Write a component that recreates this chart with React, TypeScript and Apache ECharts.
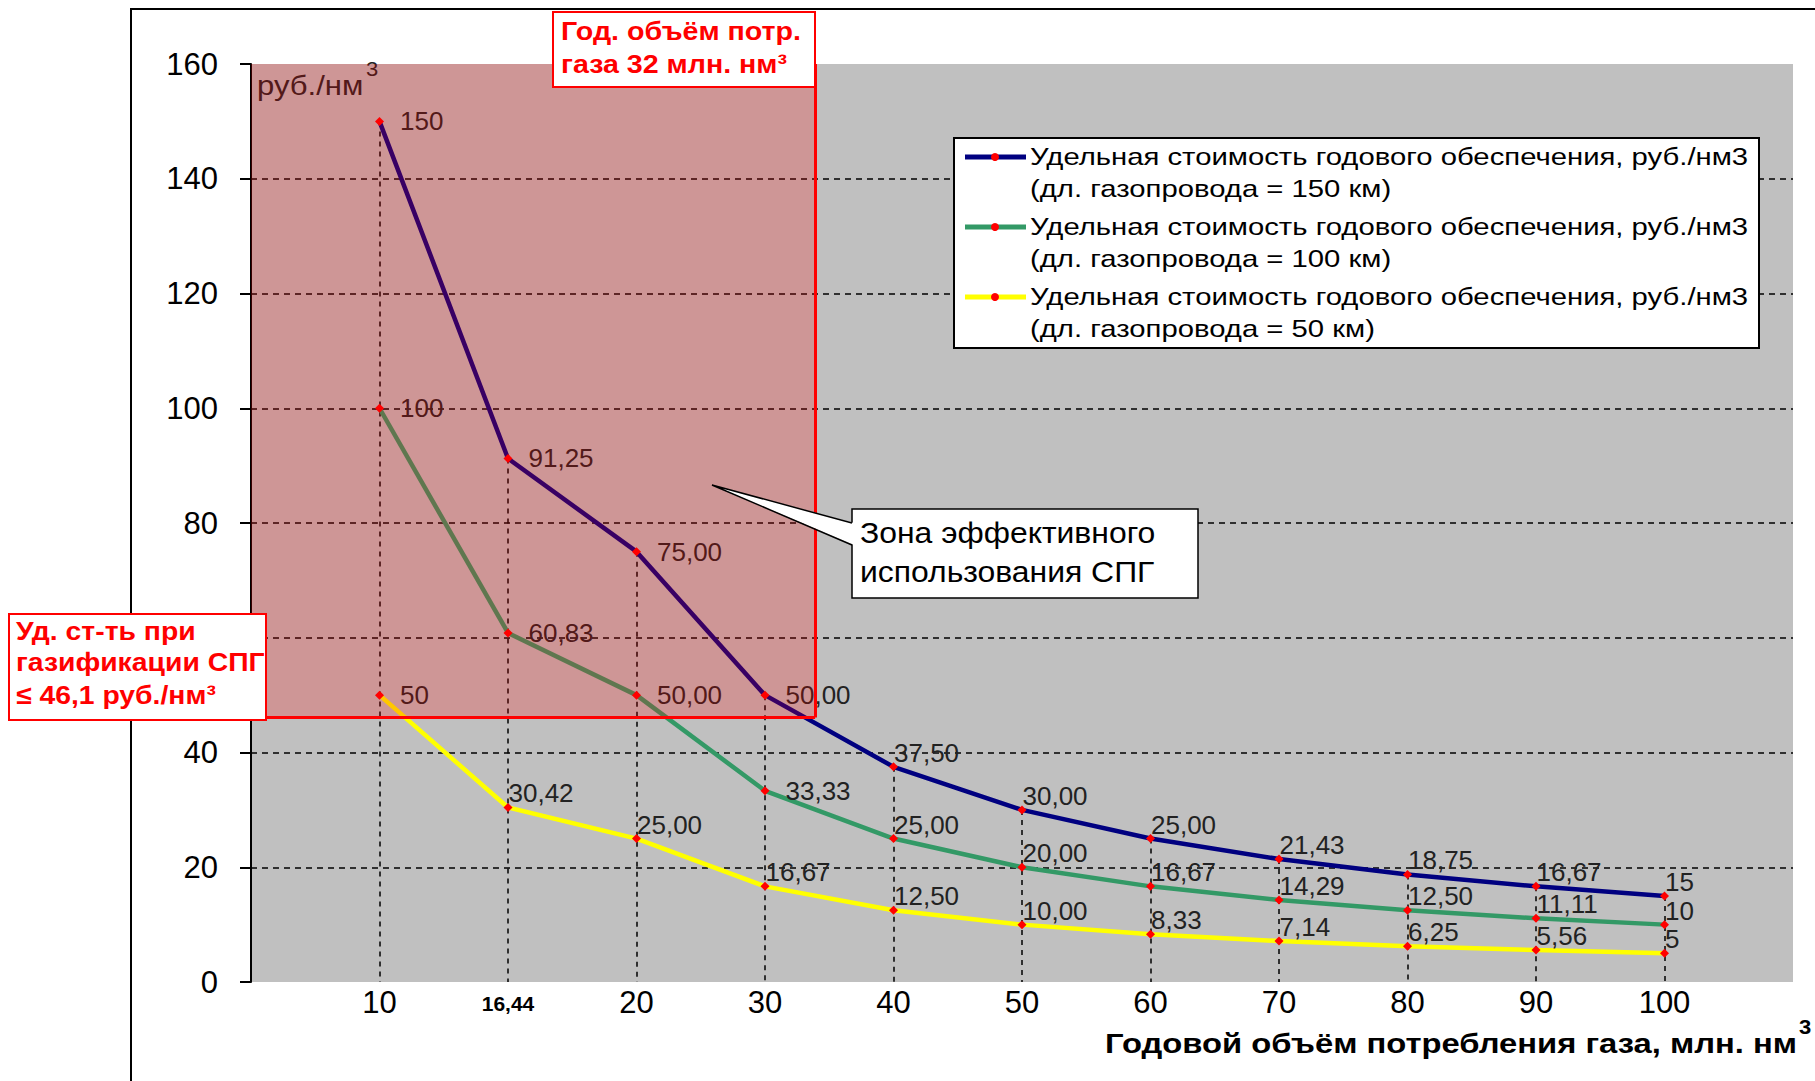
import React, { useEffect, useRef } from "react";
import * as echarts from "echarts";

// ---- data ----
const xLabels = ["10", "16,44", "20", "30", "40", "50", "60", "70", "80", "90", "100"];
const yTicks = [0, 20, 40, 60, 80, 100, 120, 140, 160];
const hiddenYTick = 60; // covered by the annotation box in the reference
const navyValues = [150, 91.25, 75.0, 50.0, 37.5, 30.0, 25.0, 21.43, 18.75, 16.67, 15];
const greenValues = [100, 60.83, 50.0, 33.33, 25.0, 20.0, 16.67, 14.29, 12.5, 11.11, 10];
const yellowValues = [50, 30.42, 25.0, 16.67, 12.5, 10.0, 8.33, 7.14, 6.25, 5.56, 5];
const seriesNames = [
  "Удельная стоимость годового обеспечения, руб./нм3",
  "Удельная стоимость годового обеспечения, руб./нм3",
  "Удельная стоимость годового обеспечения, руб./нм3",
];
const seriesSubNames = [
  "(дл. газопровода = 150 км)",
  "(дл. газопровода = 100 км)",
  "(дл. газопровода = 50 км)",
];
const zoneEndPos = 4.39; // position of 32 mln nm3 on the axis
const lngCostLimit = 46.1;

const FONT = "'Liberation Sans', Arial, sans-serif";
const colors = ["#000080", "#339966", "#FFFF00"];

const fmt = (v: number, i: number, n: number) =>
  i === 0 || i === n - 1 ? String(Math.round(v)) : v.toFixed(2).replace(".", ",");

function makeSeries(name: string, values: number[], color: string, nearCount: number, idx: number) {
  return {
    name: name + " " + idx,
    type: "line",
    z: 3,
    symbol: "diamond",
    symbolSize: 9,
    itemStyle: { color: "#FF0000" },
    lineStyle: { color, width: 4.5 },
    data: values.map((v, i) => ({
      value: [i + 1, v],
      label:
        i < nearCount
          ? { position: "right", distance: 16, offset: [0, 0] }
          : { position: "right", distance: 0, offset: [-4, -14] },
    })),
    label: {
      show: true,
      color: "#222",
      fontSize: 26,
      fontFamily: FONT,
      formatter: (p: any) => fmt(p.value[1], p.dataIndex, values.length),
    },
  };
}

function buildOption() {
  const series: any[] = [
    {
      ...makeSeries(seriesNames[0], navyValues, colors[0], 4, 0),
      markLine: {
        silent: true,
        z: 1,
        symbol: ["none", "none"],
        label: { show: false },
        lineStyle: { color: "#000", type: [5, 5], width: 1.5 },
        data: navyValues.map((v, i) => [{ coord: [i + 1, v] }, { coord: [i + 1, 0] }]),
      },
    },
    makeSeries(seriesNames[1], greenValues, colors[1], 4, 1),
    makeSeries(seriesNames[2], yellowValues, colors[2], 1, 2),
    {
      name: "zone",
      type: "line",
      z: 10,
      data: [],
      markArea: {
        silent: true,
        z: 10,
        itemStyle: { color: "rgba(255,0,0,0.22)", borderWidth: 0 },
        data: [[{ coord: [0, lngCostLimit] }, { coord: [zoneEndPos, 160] }]],
      },
      markLine: {
        silent: true,
        z: 11,
        symbol: ["none", "none"],
        label: { show: false },
        lineStyle: { color: "#FF0000", type: "solid", width: 3 },
        data: [
          [{ coord: [0, lngCostLimit] }, { coord: [zoneEndPos, lngCostLimit] }],
          [{ coord: [zoneEndPos, lngCostLimit] }, { coord: [zoneEndPos, 160] }],
        ],
      },
    },
  ];

  const textEl = (x: number, y: number, text: string, style: any, z = 100, scaleX = 1) => ({
    type: "text",
    x,
    y,
    z,
    scaleX,
    style: { text, fontFamily: FONT, textVerticalAlign: "middle", verticalAlign: "middle", ...style },
  });

  const redBold = { fontSize: 26, fontWeight: "bold", fill: "#FF0000" };

  const graphic: any[] = [
    // chart area frame
    {
      type: "rect",
      z: 0,
      shape: { x: 131, y: 9, width: 1800, height: 1200 },
      style: { fill: "none", stroke: "#000", lineWidth: 2 },
    },
    textEl(257, 86, "руб./нм", { fontSize: 27, fill: "#222" }, 4, 1.15),
    textEl(366, 69, "3", { fontSize: 20, fill: "#222" }, 4, 1.1),
    // top box
    {
      type: "rect",
      z: 100,
      shape: { x: 553, y: 12, width: 262, height: 75 },
      style: { fill: "#fff", stroke: "#FF0000", lineWidth: 2 },
    },
    textEl(561, 31, "Год. объём потр.", redBold, 100, 1.1),
    textEl(561, 64, "газа 32 млн. нм³", redBold, 100, 1.1),
    // left box
    {
      type: "rect",
      z: 100,
      shape: { x: 9, y: 614, width: 257, height: 106 },
      style: { fill: "#fff", stroke: "#FF0000", lineWidth: 2 },
    },
    textEl(16, 631, "Уд. ст-ть при", redBold, 100, 1.09),
    textEl(16, 662, "газификации СПГ", redBold, 100, 1.09),
    textEl(16, 695, "≤ 46,1 руб./нм³", redBold, 100, 1.09),
    // callout
    {
      type: "rect",
      z: 100,
      shape: { x: 852, y: 509, width: 346, height: 89 },
      style: { fill: "#fff", stroke: "#000", lineWidth: 1.5 },
    },
    {
      type: "polygon",
      z: 101,
      shape: { points: [[712, 485], [854, 523], [854, 545]] },
      style: { fill: "#fff", stroke: "none" },
    },
    {
      type: "polyline",
      z: 102,
      shape: { points: [[852, 523], [712, 485], [852, 545]] },
      style: { fill: "none", stroke: "#000", lineWidth: 1.5 },
    },
    textEl(860, 533, "Зона эффективного", { fontSize: 29, fill: "#000" }, 103, 1.1),
    textEl(860, 572, "использования СПГ", { fontSize: 29, fill: "#000" }, 103, 1.1),
    // legend
    {
      type: "rect",
      z: 100,
      shape: { x: 954, y: 138, width: 805, height: 210 },
      style: { fill: "#fff", stroke: "#000", lineWidth: 2 },
    },
    // axis title
    textEl(
      1797,
      1043,
      "Годовой объём потребления газа, млн. нм",
      { fontSize: 28, fontWeight: "bold", fill: "#000", align: "right", textAlign: "right" },
      100,
      1.17
    ),
    textEl(1799, 1027, "3", { fontSize: 20, fontWeight: "bold", fill: "#000" }, 100, 1.1),
  ];

  seriesNames.forEach((name, i) => {
    const y1 = 157 + 70 * i;
    graphic.push({
      type: "line",
      z: 101,
      shape: { x1: 965, y1, x2: 1026, y2: y1 },
      style: { stroke: colors[i], lineWidth: 5 },
    });
    graphic.push({
      type: "circle",
      z: 102,
      shape: { cx: 995, cy: y1, r: 4 },
      style: { fill: "#FF0000" },
    });
    graphic.push(textEl(1030, y1, name, { fontSize: 24, fill: "#000" }, 101, 1.22));
    graphic.push(textEl(1030, y1 + 32, seriesSubNames[i], { fontSize: 24, fill: "#000" }, 101, 1.22));
  });

  return {
    animation: false,
    backgroundColor: "#fff",
    grid: {
      left: 251,
      top: 64,
      right: 22,
      bottom: 99,
      show: true,
      backgroundColor: "#C0C0C0",
      borderWidth: 0,
    },
    xAxis: {
      type: "value",
      min: 0,
      max: 12,
      interval: 1,
      axisLine: { show: false },
      axisTick: { show: false },
      splitLine: { show: false },
      axisLabel: {
        margin: 5,
        fontSize: 31,
        fontFamily: FONT,
        color: "#000",
        formatter: (v: number) => {
          const s = xLabels[v - 1];
          if (!s) return "";
          return s.includes(",") ? "{b|" + s + "}" : s;
        },
        rich: {
          b: { fontSize: 21, fontWeight: "bold", fontFamily: FONT, color: "#000", padding: [6, 0, 0, 0] },
        },
      },
    },
    yAxis: {
      type: "value",
      min: yTicks[0],
      max: yTicks[yTicks.length - 1],
      interval: yTicks[1] - yTicks[0],
      axisLine: { show: true, lineStyle: { color: "#000", width: 2 } },
      axisTick: { show: true, length: 11, lineStyle: { color: "#000", width: 2 } },
      axisLabel: {
        margin: 33,
        fontSize: 31,
        fontFamily: FONT,
        color: "#000",
        formatter: (v: number) => (v === hiddenYTick ? "" : String(v)),
      },
      splitLine: {
        show: true,
        showMinLine: false,
        showMaxLine: false,
        lineStyle: { color: "#000", type: [6, 5], width: 1.5 },
      },
    },
    series,
    graphic,
  };
}

export default function App() {
  const ref = useRef<HTMLDivElement>(null);
  useEffect(() => {
    if (!ref.current) return;
    const chart = echarts.init(ref.current, null, { renderer: "svg" });
    chart.setOption(buildOption() as any);
    return () => chart.dispose();
  }, []);
  return (
    <div
      ref={ref}
      style={{ position: "fixed", left: 0, top: 0, width: 1815, height: 1081, background: "#fff" }}
    />
  );
}
